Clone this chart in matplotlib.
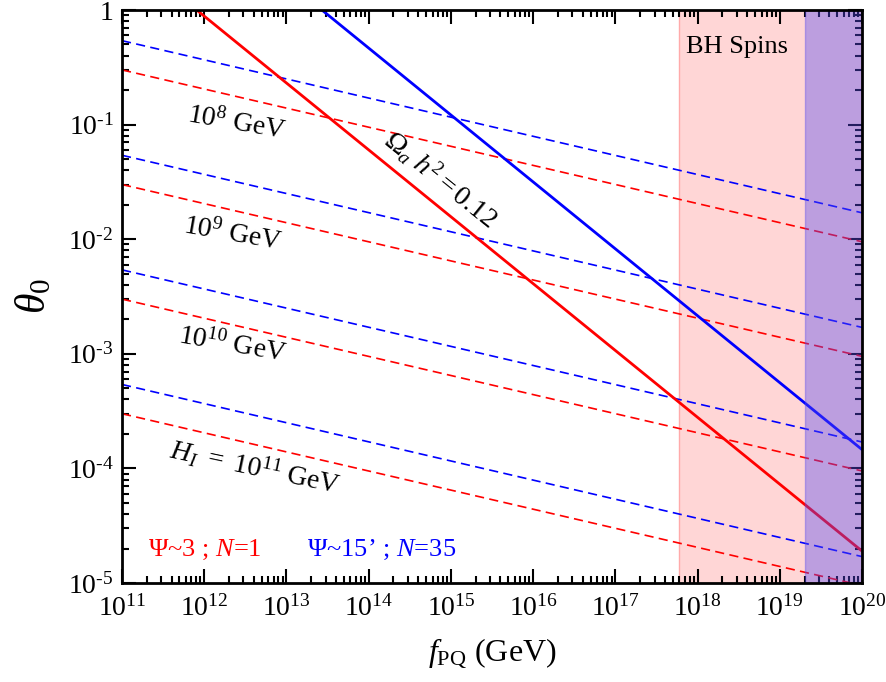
import numpy as np
import matplotlib
matplotlib.use("Agg")
import matplotlib.pyplot as plt
from matplotlib.ticker import LogLocator, FuncFormatter, NullFormatter

plt.rcParams['font.family'] = ['Liberation Serif', 'DejaVu Serif']
plt.rcParams['mathtext.fontset'] = 'custom'
plt.rcParams['mathtext.rm'] = 'Liberation Serif'
plt.rcParams['mathtext.it'] = 'Liberation Serif:italic'
plt.rcParams['mathtext.bf'] = 'Liberation Serif:bold'

# ---- data ----
f_range = [1e11, 1e20]
H_I_values = [1e8, 1e9, 1e10, 1e11]
red_dashed_start = [0.30, 0.030, 0.0030, 0.00030]
red_dashed_end = [0.0095, 0.00095, 0.000095, 0.0000095]
blue_dashed_start = [0.54, 0.054, 0.0054, 0.00054]
blue_dashed_end = [0.017, 0.0017, 0.00017, 0.000017]

red_solid_f = [8.1e11, 1e20]
red_solid_theta = [1.0, 1.9e-5]
blue_solid_f = [2.7e13, 1e20]
blue_solid_theta = [1.0, 1.46e-4]

bh_spins_range = [5.9e17, 1e20]
purple_range = [2.0e19, 1e20]

RED = '#FF0000'
BLUE = '#0000FF'

fig = plt.figure(figsize=(8.86, 6.82), dpi=100)
ax = fig.add_axes([122/886, 1-583/682, (862-122)/886, (583-10)/682])
ax.set_xscale('log')
ax.set_yscale('log')
ax.set_xlim(f_range)
ax.set_ylim(1e-5, 1)

# shaded regions
ax.axvspan(bh_spins_range[0], bh_spins_range[1], facecolor='#FFD6D6',
           edgecolor='#FFAAAA', linewidth=1.0, zorder=0)

# dashed lines
for s, e in zip(red_dashed_start, red_dashed_end):
    ax.plot(f_range, [s, e], color=RED, lw=1.2, linestyle=(0, (5.5, 3.2)), zorder=2)
for s, e in zip(blue_dashed_start, blue_dashed_end):
    ax.plot(f_range, [s, e], color=BLUE, lw=1.2, linestyle=(0, (5.5, 3.2)), zorder=2)

# solid lines
ax.plot(red_solid_f, red_solid_theta, color=RED, lw=2.0, zorder=3)
ax.plot(blue_solid_f, blue_solid_theta, color=BLUE, lw=2.0, zorder=3)

# purple overlay
ax.axvspan(purple_range[0], purple_range[1], facecolor='#584AEF', alpha=0.4,
           edgecolor='#584AEF', linewidth=1.0, zorder=4)

# labels
def pos(x, y):
    return 10**(11 + (x-122)/82.2), 10**(-(y-11)/114.2)

fs_ann = 20
ax.text(*pos(237, 124), r'$\mathit{10^{8}}$ GeV', fontsize=fs_ann, rotation=-10,
        ha='center', va='center', zorder=5)
ax.text(*pos(233, 234), r'$\mathit{10^{9}}$ GeV', fontsize=fs_ann, rotation=-10,
        ha='center', va='center', zorder=5)
ax.text(*pos(232, 345), r'$\mathit{10^{10}}$ GeV', fontsize=fs_ann, rotation=-10,
        ha='center', va='center', zorder=5)
ax.text(*pos(255, 467), r'$H_I\ =\ \mathit{10^{11}}$ GeV', fontsize=fs_ann, rotation=-12,
        ha='center', va='center', zorder=5)
ax.text(*pos(441, 180), r'$\Omega_a\ h^2 = 0.12$', fontsize=fs_ann, rotation=-39,
        ha='center', va='center', zorder=5)
ax.text(*pos(737, 48), 'BH Spins', fontsize=19, ha='center', va='center', zorder=5)
ax.text(*pos(148, 549), r'Ψ~3 ; $N$=1', fontsize=19, color=RED, ha='left', va='center', zorder=5)
ax.text(*pos(307, 549), r'Ψ~15’ ; $N$=35', fontsize=19, color=BLUE, ha='left', va='center', zorder=5)

# ticks
ax.xaxis.set_major_locator(LogLocator(base=10, numticks=20))
ax.xaxis.set_minor_locator(LogLocator(base=10, subs=np.arange(2, 10), numticks=200))
ax.yaxis.set_major_locator(LogLocator(base=10, numticks=20))
ax.yaxis.set_minor_locator(LogLocator(base=10, subs=np.arange(2, 10), numticks=200))

def fmt(v, p):
    e = int(round(np.log10(v)))
    if e == 0:
        return '1'
    if e < 0:
        return r'$10^{\text{-}%d}$' % (-e)
    return r'$10^{%d}$' % e

ax.xaxis.set_major_formatter(FuncFormatter(fmt))
ax.yaxis.set_major_formatter(FuncFormatter(fmt))
ax.xaxis.set_minor_formatter(NullFormatter())
ax.yaxis.set_minor_formatter(NullFormatter())
ax.tick_params(which='both', direction='in', top=True, right=True, labelsize=20, width=1.5)
ax.tick_params(which='major', length=10)
ax.tick_params(which='minor', length=5)
ax.tick_params(axis='x', pad=9)
ax.tick_params(axis='y', pad=6)
for sp in ax.spines.values():
    sp.set_linewidth(2)
    sp.set_zorder(6)

ax.set_xlabel(r'$f_{\mathrm{PQ}}$ (GeV)', fontsize=23, labelpad=10)
ax.set_ylabel(r'$\theta_0$', fontsize=30, labelpad=10)

fig.savefig('out.png', dpi=100)
